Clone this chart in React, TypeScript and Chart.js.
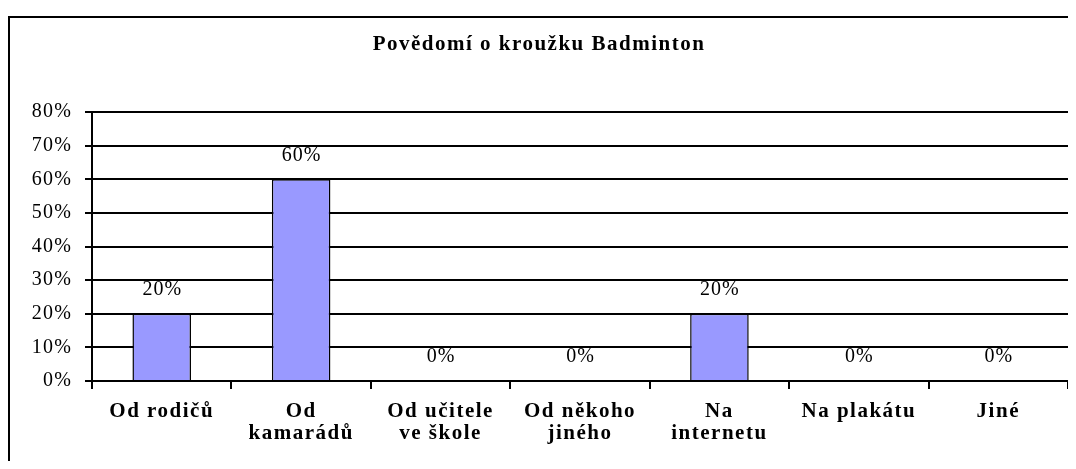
import React, { useEffect, useRef } from "react";
import { Chart, registerables } from "chart.js";

Chart.register(...registerables);

const TITLE = "Povědomí o kroužku Badminton";
const CATEGORIES: string[][] = [
  ["Od rodičů"],
  ["Od", "kamarádů"],
  ["Od učitele", "ve škole"],
  ["Od někoho", "jiného"],
  ["Na", "internetu"],
  ["Na plakátu"],
  ["Jiné"],
];
const VALUES: number[] = [20, 60, 0, 0, 20, 0, 0];
const Y_MIN = 0;
const Y_MAX = 80;
const Y_STEP = 10;

const FONT = '"Liberation Serif", "Times New Roman", serif';
const BAR_FILL = "#9999FF";

function wrapSpacing(obj: any, method: string, spacing: string, ctx: CanvasRenderingContext2D) {
  if (!obj || obj["__sp_" + method]) return;
  const orig = obj[method].bind(obj);
  obj[method] = (...args: any[]) => {
    ctx.save();
    (ctx as any).letterSpacing = spacing;
    orig(...args);
    ctx.restore();
  };
  obj["__sp_" + method] = true;
}

const spacingPlugin = {
  id: "letterSpacingPlugin",
  beforeDraw(chart: any) {
    const ctx = chart.ctx;
    wrapSpacing(chart.titleBlock, "draw", "1.5px", ctx);
    wrapSpacing(chart.scales.x, "drawLabels", "1.5px", ctx);
    wrapSpacing(chart.scales.y, "drawLabels", "1.2px", ctx);
  },
};

const valueLabelPlugin = {
  id: "valueLabelPlugin",
  afterDatasetsDraw(chart: any) {
    const ctx: CanvasRenderingContext2D = chart.ctx;
    const meta = chart.getDatasetMeta(0);
    ctx.save();
    ctx.font = `20px ${FONT}`;
    ctx.fillStyle = "#000";
    ctx.textAlign = "center";
    ctx.textBaseline = "middle";
    (ctx as any).letterSpacing = "1px";
    meta.data.forEach((bar: any, i: number) => {
      ctx.fillText(`${VALUES[i]}%`, bar.x + 0.5, bar.y - 24);
    });
    ctx.restore();
  },
};

export default function App() {
  const canvasRef = useRef<HTMLCanvasElement | null>(null);

  useEffect(() => {
    if (!canvasRef.current) return;
    const chart = new Chart(canvasRef.current, {
      type: "bar",
      data: {
        labels: CATEGORIES,
        datasets: [
          {
            data: VALUES,
            backgroundColor: BAR_FILL,
            borderColor: "#000",
            borderWidth: 1.5,
            barPercentage: 0.42,
            categoryPercentage: 1,
          },
        ],
      },
      options: {
        animation: false,
        responsive: false,
        devicePixelRatio: 1,
        layout: { padding: { top: 0, left: 0, right: 6, bottom: 0 } },
        plugins: {
          legend: { display: false },
          tooltip: { enabled: false },
          title: {
            display: true,
            text: TITLE,
            color: "#000",
            font: { family: FONT, size: 21, weight: "bold", lineHeight: 1.2 },
            padding: { top: 14, bottom: 54.8 },
          },
        },
        scales: {
          x: {
            type: "category",
            offset: true,
            grid: {
              offset: true,
              drawOnChartArea: false,
              drawTicks: true,
              tickLength: 8,
              color: "#000",
              lineWidth: 2,
            },
            border: { display: true, color: "#000", width: 2 },
            ticks: {
              color: "#000",
              font: { family: FONT, size: 21, weight: "bold", lineHeight: 1.05 },
              padding: 12,
              maxRotation: 0,
              autoSkip: false,
            },
            afterFit(scale: any) {
              scale.height = 80;
            },
          },
          y: {
            min: Y_MIN,
            max: Y_MAX,
            ticks: {
              stepSize: Y_STEP,
              color: "#000",
              font: { family: FONT, size: 20 },
              padding: 13,
              callback: (v: any) => `${v}%`,
            },
            grid: { color: "#000", lineWidth: 2, tickLength: 7, drawTicks: true },
            border: { display: true, color: "#000", width: 2 },
            afterFit(scale: any) {
              scale.width = 82;
            },
          },
        },
      },
      plugins: [spacingPlugin, valueLabelPlugin],
    } as any);
    return () => chart.destroy();
  }, []);

  return (
    <div style={{ paddingTop: 8 }}>
      <div
        style={{
          width: 1066,
          height: 445,
          boxSizing: "border-box",
          borderTop: "2px solid #000",
          borderLeft: "2px solid #000",
          background: "#fff",
        }}
      >
        <canvas ref={canvasRef} width={1064} height={443} style={{ display: "block" }} />
      </div>
    </div>
  );
}
